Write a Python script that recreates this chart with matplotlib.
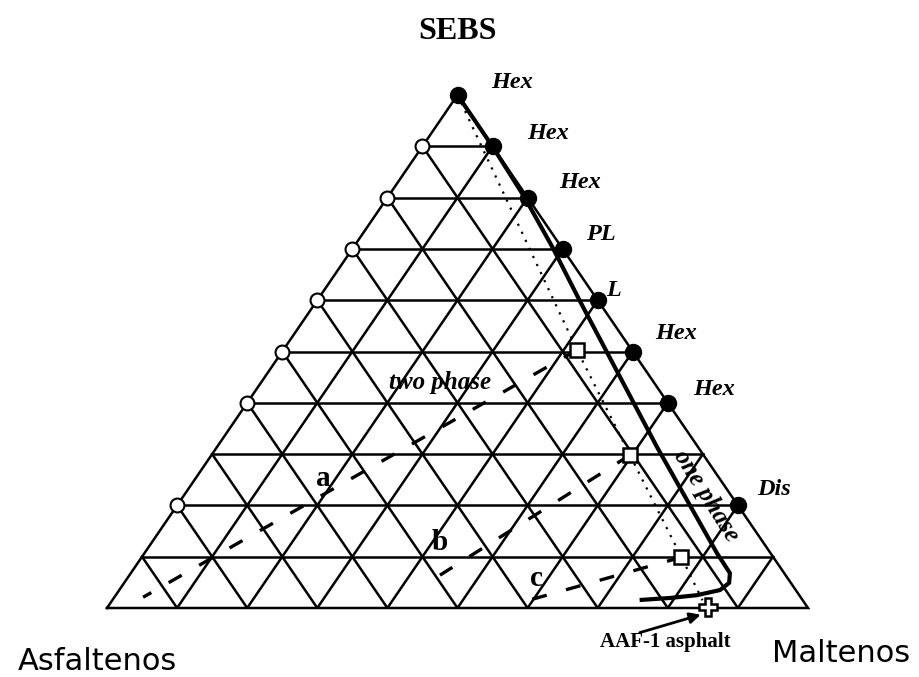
import matplotlib.pyplot as plt
import numpy as np

# compositions given as fractions: SEBS (top), maltenos (right); asfaltenos = rest
right_sebs = [1.0, 0.9, 0.8, 0.7, 0.6, 0.5, 0.4, 0.2]
right_labels = ["Hex", "Hex", "Hex", "PL", "L", "Hex", "Hex", "Dis"]
right_label_off = [(55, 13), (55, 13), (52, 15), (38, 14), (16, 10), (43, 18), (46, 13), (36, 16)]
left_sebs = [0.9, 0.8, 0.7, 0.6, 0.5, 0.4, 0.2]

square_sebs = [0.503, 0.298, 0.099]
square_malt = [0.419, 0.597, 0.770]
asphalt_sebs = 0.002
asphalt_malt = 0.857

# one phase / two phase boundary
boundary_sebs = [1.0, 0.9025, 0.801, 0.702, 0.600, 0.314, 0.107, 0.068,
                 0.049, 0.035, 0.025, 0.0195, 0.0156]
boundary_malt = [0.0, 0.0973, 0.195, 0.285, 0.374, 0.6275, 0.8166, 0.8546,
                 0.863, 0.857, 0.829, 0.793, 0.752]

# SEBS dilution of the asphalt (dotted)
dotted_sebs = [1.0, 0.503, 0.298, 0.099, 0.015]
dotted_malt = [0.0, 0.419, 0.597, 0.770, 0.842]

# dashed paths a, b, c start at the squares
dash_names = ["a", "b", "c"]
dash_end_sebs = [0.021, 0.064, 0.016]
dash_end_malt = [0.041, 0.443, 0.596]


def tern(s, m):
    s = np.asarray(s, dtype=float)
    m = np.asarray(m, dtype=float)
    return m + s / 2.0, s


fig = plt.figure(figsize=(9.19, 6.77), dpi=100)
ax = fig.add_axes([107 / 919, 69 / 677, 701 / 919, 513 / 677])
ax.set_xlim(0, 1)
ax.set_ylim(0, 1)
ax.axis('off')

serif = 'Liberation Serif'
lw_grid = 1.8

# grid
for k in range(1, 10):
    f = k / 10
    x, y = tern([f, f], [0, 1 - f])
    ax.plot(x, y, color='black', lw=lw_grid, zorder=1)
    x, y = tern([0, 1 - f], [f, f])
    ax.plot(x, y, color='black', lw=lw_grid, zorder=1)
    x, y = tern([0, 1 - f], [1 - f, 0])
    ax.plot(x, y, color='black', lw=lw_grid, zorder=1)
x, y = tern([0, 0, 1, 0], [0, 1, 0, 0])
ax.plot(x, y, color='black', lw=lw_grid, zorder=1, solid_joinstyle='miter', clip_on=False)

# boundary and dilution lines
x, y = tern(boundary_sebs, boundary_malt)
ax.plot(x, y, color='black', lw=3.0, zorder=3, solid_capstyle='butt')
x, y = tern(dotted_sebs, dotted_malt)
ax.plot(x, y, color='black', lw=1.6, ls=(0, (1, 3)), zorder=2)

for i in range(3):
    x, y = tern([square_sebs[i], dash_end_sebs[i]], [square_malt[i], dash_end_malt[i]])
    ax.plot(x, y, color='black', lw=2.4, ls=(0, (4.5, 6)), zorder=2)

# markers
x, y = tern(right_sebs, [1 - s for s in right_sebs])
ax.plot(x, y, 'o', color='black', ms=11.5, zorder=5, clip_on=False)
for xi, yi, lab, off in zip(x, y, right_labels, right_label_off):
    ax.annotate(lab, (xi, yi), xytext=(off[0], off[1]), textcoords='offset pixels',
                ha='center', va='center', fontsize=17.5, fontweight='bold',
                style='italic', family=serif, annotation_clip=False)

x, y = tern(left_sebs, [0] * len(left_sebs))
ax.plot(x, y, 'o', mfc='white', mec='black', mew=1.5, ms=10, zorder=5, clip_on=False)

x, y = tern(square_sebs, square_malt)
ax.plot(x, y, 's', mfc='white', mec='black', mew=1.8, ms=10.5, zorder=5)

x, y = tern([asphalt_sebs], [asphalt_malt])
ax.plot(x, y, 'P', mfc='white', mec='black', mew=1.8, ms=13, zorder=6, clip_on=False)

# text
ax.text(0.5, 1.123, 'SEBS', ha='center', va='center', fontsize=23,
        fontweight='bold', family=serif)
ax.text(-0.014, -0.105, 'Asfaltenos', ha='center', va='center', fontsize=22,
        family='DejaVu Sans')
ax.text(1.047, -0.088, 'Maltenos', ha='center', va='center', fontsize=22,
        family='DejaVu Sans')
ax.annotate('', xy=(0.847, -0.013), xytext=(0.760, -0.048),
            arrowprops=dict(arrowstyle='-|>', color='black', lw=2,
                            mutation_scale=16, shrinkA=0, shrinkB=0),
            annotation_clip=False)
ax.text(0.796, -0.066, 'AAF-1 asphalt', ha='center', va='center', fontsize=15,
        fontweight='bold', family=serif)

ax.text(0.475, 0.4386, 'two phase', ha='center', va='center', fontsize=18,
        fontweight='bold', style='italic', family=serif)
ax.text(0.855, 0.218, 'one phase', ha='center', va='center', fontsize=18,
        fontweight='bold', style='italic', family=serif, rotation=-58)

label_pos = [(0.308, 0.253), (0.475, 0.127), (0.613, 0.058)]
for name, (lx, ly) in zip(dash_names, label_pos):
    ax.text(lx, ly, name, ha='center', va='center', fontsize=21,
            fontweight='bold', family=serif)

fig.savefig('out.png', dpi=100)
